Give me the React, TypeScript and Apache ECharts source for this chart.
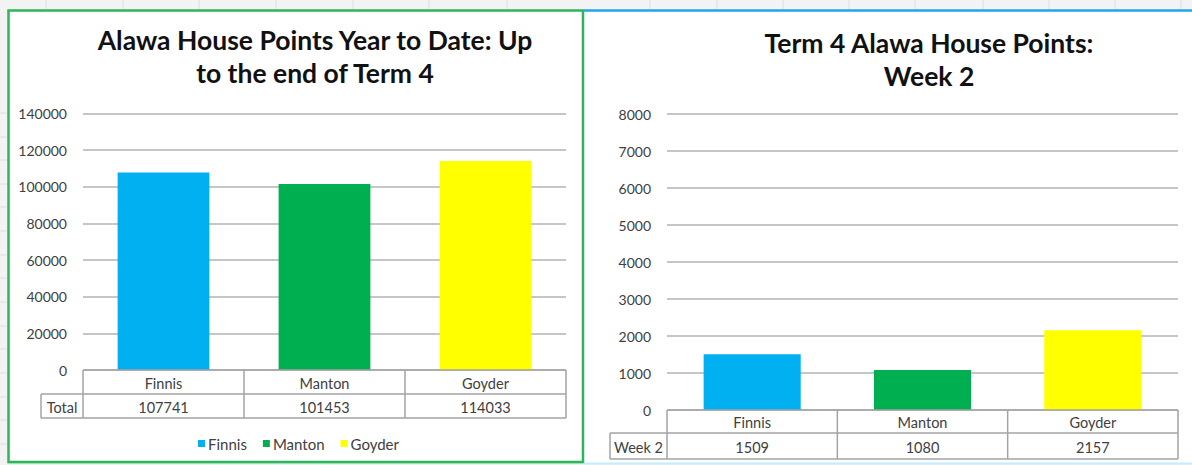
import React, { useEffect, useRef } from "react";
import * as echarts from "echarts";

// ---- data ----
const houses = ["Finnis", "Manton", "Goyder"];
const houseColors = ["#00B0F0", "#00B050", "#FFFF00"];
const totalValues = [107741, 101453, 114033];
const week2Values = [1509, 1080, 2157];
const leftTitle = ["Alawa House Points Year to Date: Up", "to the end of Term 4"];
const rightTitle = ["Term 4 Alawa House Points:", "Week 2"];
const leftRowLabel = "Total";
const rightRowLabel = "Week 2";
const leftAxisMax = 140000;
const leftAxisStep = 20000;
const rightAxisMax = 8000;
const rightAxisStep = 1000;

// ---- layout ----
const W = 1192;
const H = 465;
const FONT = "Lato, 'Open Sans', sans-serif";
const TEXT = "#404040";
const TABLE_LINE = "#a3a3a3";

const L = { gl: 83, gr: 566, top: 113.5, rows: [370, 394, 418], labelLeft: 41, titleX: 315, titleY: [40, 73] };
const R = { gl: 667, gr: 1178, top: 114, rows: [410, 433, 459], labelLeft: 610, titleX: 929, titleY: [43, 76] };

function tableGraphics(g: typeof L, values: number[], rowLabel: string) {
  const els: any[] = [];
  const cw = (g.gr - g.gl) / houses.length;
  const ln = (x1: number, y1: number, x2: number, y2: number) => ({
    type: "line",
    z: 50,
    shape: { x1, y1, x2, y2 },
    style: { stroke: TABLE_LINE, lineWidth: 1.5 },
  });
  els.push(ln(g.gl, g.rows[0], g.gr, g.rows[0]));
  els.push(ln(g.labelLeft, g.rows[1], g.gr, g.rows[1]));
  els.push(ln(g.labelLeft, g.rows[2], g.gr, g.rows[2]));
  els.push(ln(g.labelLeft, g.rows[1], g.labelLeft, g.rows[2]));
  for (let i = 0; i <= houses.length; i++) {
    const x = g.gl + cw * i;
    els.push(ln(x, g.rows[0], x, g.rows[2]));
  }
  const txt = (x: number, y: number, text: string) => ({
    type: "text",
    z: 50,
    x,
    y,
    style: { text, fill: TEXT, fontSize: 14.5, fontFamily: FONT, align: "center", verticalAlign: "middle" },
  });
  houses.forEach((h, i) => {
    const cx = g.gl + cw * (i + 0.5);
    els.push(txt(cx, (g.rows[0] + g.rows[1]) / 2 + 1, h));
    els.push(txt(cx, (g.rows[1] + g.rows[2]) / 2 + 1, String(values[i])));
  });
  els.push(txt((g.labelLeft + g.gl) / 2, (g.rows[1] + g.rows[2]) / 2 + 1, rowLabel));
  return els;
}

function titleGraphics(g: typeof L, lines: string[]) {
  return lines.map((t, i) => ({
    type: "text",
    z: 50,
    x: g.titleX,
    y: g.titleY[i],
    style: { text: t, fill: "#111", fontSize: 26.5, fontWeight: "bold", fontFamily: FONT, align: "center", verticalAlign: "middle" },
  }));
}

export default function App() {
  const ref = useRef<HTMLDivElement>(null);
  useEffect(() => {
    document.body.style.margin = "0";
    const chart = echarts.init(ref.current!, null, { renderer: "svg" });

    const colTicks = [46, 123, 199, 276, 353, 429, 507, 650, 717, 783, 849, 915, 983, 1049, 1115, 1181];
    const rowTicks = [113, 137, 160, 184, 207, 231, 255, 278, 302, 326, 349, 373, 397, 420, 444];

    const decor: any[] = [
      { type: "rect", z: -10, shape: { x: 8, y: 10, width: 575, height: 452 }, style: { fill: "#ffffff" } },
      { type: "rect", z: -10, shape: { x: 583, y: 10, width: 609, height: 453 }, style: { fill: "#ffffff" } },
      ...colTicks.map((x) => ({ type: "line", z: -5, shape: { x1: x, y1: 0, x2: x, y2: 9 }, style: { stroke: "#dedede", lineWidth: 1 } })),
      ...rowTicks.map((y) => ({ type: "line", z: -5, shape: { x1: 0, y1: y, x2: 7, y2: y }, style: { stroke: "#dedede", lineWidth: 1 } })),
      { type: "line", z: 60, shape: { x1: 8, y1: 463.5, x2: 583, y2: 463.5 }, style: { stroke: "#c8efd6", lineWidth: 1.5 } },
      { type: "line", z: 60, shape: { x1: 584, y1: 463.5, x2: 1192, y2: 463.5 }, style: { stroke: "#c4ecfa", lineWidth: 2 } },
      { type: "line", z: 60, shape: { x1: 584, y1: 10.5, x2: 1192, y2: 10.5 }, style: { stroke: "#1fa9e6", lineWidth: 2.5 } },
      { type: "rect", z: 61, shape: { x: 8.5, y: 10.5, width: 574.5, height: 451.5 }, style: { fill: "none", stroke: "#2db55d", lineWidth: 2.5 } },
    ];

    const makeSeries = (vals: number[], axis: number, stack: string) =>
      houses.map((h, i) => ({
        name: h,
        type: "bar",
        xAxisIndex: axis,
        yAxisIndex: axis,
        stack,
        barWidth: "57%",
        itemStyle: { color: houseColors[i] },
        data: houses.map((_, j) => (j === i ? vals[i] : null)),
      }));

    const yAxisBase = {
      type: "value",
      min: 0,
      axisLine: { show: false },
      axisTick: { show: false },
      axisLabel: { color: TEXT, fontSize: 14, fontFamily: FONT, margin: 16, formatter: (v: number) => String(v) },
      splitLine: { lineStyle: { color: "#b3b3b3", width: 1.5 } },
    };
    const xAxisBase = {
      type: "category",
      data: houses,
      axisLine: { show: false },
      axisTick: { show: false },
      axisLabel: { show: false },
    };

    chart.setOption({
      animation: false,
      backgroundColor: "#f3f3f3",
      textStyle: { fontFamily: FONT },
      grid: [
        { left: L.gl, width: L.gr - L.gl, top: L.top, height: L.rows[0] - L.top },
        { left: R.gl, width: R.gr - R.gl, top: R.top, height: R.rows[0] - R.top },
      ],
      xAxis: [
        { ...xAxisBase, gridIndex: 0 },
        { ...xAxisBase, gridIndex: 1 },
      ],
      yAxis: [
        { ...yAxisBase, gridIndex: 0, max: leftAxisMax, interval: leftAxisStep },
        { ...yAxisBase, gridIndex: 1, max: rightAxisMax, interval: rightAxisStep },
      ],
      legend: {
        data: houses,
        left: 198,
        top: 436,
        padding: 0,
        itemWidth: 7,
        itemHeight: 7,
        itemGap: 16,
        icon: "rect",
        textStyle: { color: TEXT, fontSize: 15, fontFamily: FONT, padding: [0, 0, 0, -2] },
        selectedMode: false,
      },
      series: [...makeSeries(totalValues, 0, "L"), ...makeSeries(week2Values, 1, "R")],
      graphic: [
        ...decor,
        ...titleGraphics(L, leftTitle),
        ...titleGraphics(R, rightTitle),
        ...tableGraphics(L, totalValues, leftRowLabel),
        ...tableGraphics(R, week2Values, rightRowLabel),
      ],
    });
    return () => chart.dispose();
  }, []);
  return <div ref={ref} style={{ width: W, height: H }} />;
}
